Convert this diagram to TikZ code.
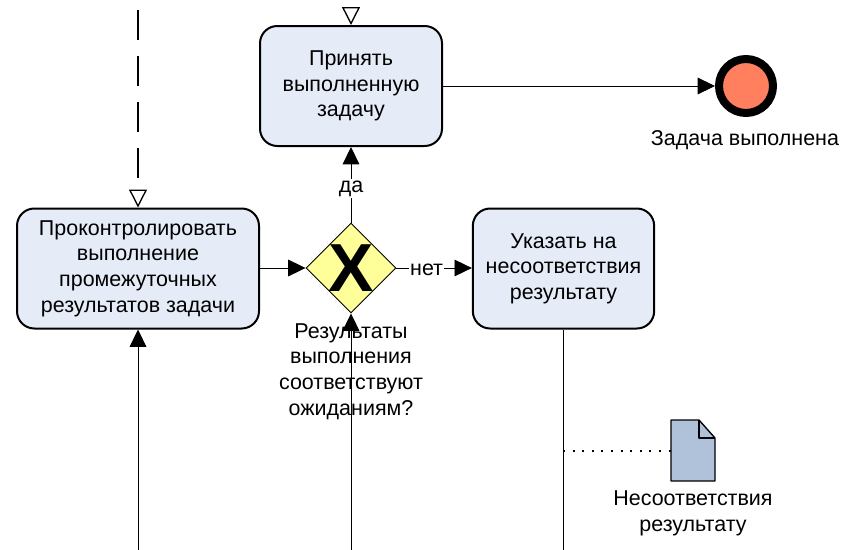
\documentclass[tikz,border=0pt]{standalone}
\usepackage{fontspec}
\setmainfont{Liberation Sans}
\usetikzlibrary{arrows.meta,shapes.geometric}

\tikzset{
  task/.style={draw, line width=1.5pt, rounded corners=13pt, fill=taskfill, align=center,
    font=\fontsize{16.1}{19.2}\selectfont, minimum height=90pt},
  gateway/.style={draw, line width=0.7pt, diamond, aspect=1, fill=gatefill, inner sep=0pt,
    minimum width=67.5pt, minimum height=67.5pt},
  endevent/.style={draw, line width=6pt, circle, fill=endfill, inner sep=0pt, minimum size=40.5pt},
  caption/.style={align=center, font=\fontsize{16.1}{19.2}\selectfont},
  edgetext/.style={fill=white, inner sep=1pt, font=\fontsize{16.1}{19.2}\selectfont},
  flow/.style={draw, line width=0.65pt, -{Triangle[length=13pt,width=12.5pt]}},
  plainflow/.style={draw, line width=0.65pt},
  message/.style={draw, line width=1pt, dash pattern=on 22.5pt off 12pt,
    -{Triangle[open,length=13.5pt,width=13.5pt,fill=white]}},
  association/.style={draw, line width=1.5pt, dash pattern=on 1.5pt off 5.7pt},
}
\definecolor{taskfill}{HTML}{E6ECF7}
\definecolor{gatefill}{HTML}{FFFF99}
\definecolor{endfill}{HTML}{FF7F5F}
\definecolor{docfill}{HTML}{B0C1DA}

\begin{document}
\begin{tikzpicture}[x=0.75pt, y=-0.75pt]
    \useasboundingbox (0,0) rectangle (843,550);

    % tasks, gateway and end event
    \node[task, minimum width=136.5pt] (accept) at (351,86) {Принять\\выполненную\\задачу};
    \node[task, minimum width=181.5pt] (control) at (138,268.5) {Проконтролировать\\выполнение\\промежуточных\\результатов задачи};
    \node[task, minimum width=136pt] (remark) at (563.5,268.5) {Указать на\\несоответствия\\результату};
    \node[gateway] (check) at (351,268) {};
    \node[font=\fontsize{51}{51}\selectfont\bfseries] (checkmark) at (check.center) {X};
    \node[endevent] (done) at (746,86) {};

    % free ends of the connectors
    \coordinate (msgstart) at (138,10);
    \coordinate (acceptin) at (351,7);
    \coordinate (controlin) at (138,550);
    \coordinate (checkin) at (351,550);
    \coordinate (remarkout) at (563,550);
    \coordinate (assocstart) at (563,451);
    \coordinate (docleft) at (671,451);

    % connectors
    \draw[flow] (accept.east) -- (done.west);
    \draw[flow] (control.east |- check.west) -- (check.west);
    \draw[flow] (check.north) -- node[edgetext, pos=0.45] (yes) {да} (accept.south);
    \draw[flow] (check.east) -- node[edgetext, pos=0.40, yshift=-1pt] (no) {нет} (remark.west |- check.east);
    \draw[flow] (controlin) -- (control.south);
    \draw[flow] (checkin) -- (check.south);
    \draw[plainflow] (remark.south -| remarkout) -- (remarkout);
    \draw[message] (msgstart) -- (control.north);
    \draw[message, solid] (acceptin) -- (accept.north);

    % data object with its folded corner
    \draw[line width=1pt, fill=docfill, line join=round]
      (671,420) -- (699,420) -- (715,438) -- (715,481) -- (671,481) -- cycle;
    \draw[line width=1pt, line join=round] (699,420) -- (699,438) -- (715,438);
    \draw[association] (assocstart) -- (docleft);

    % captions
    \node[caption] (donetext) at (745,140) {Задача выполнена};
    \node[caption] (checktext) at (351,371.5) {Результаты\\выполнения\\соответствуют\\ожиданиям?};
    \node[caption] (doctext) at (693,513.5) {Несоответствия\\результату};
\end{tikzpicture}
\end{document}
